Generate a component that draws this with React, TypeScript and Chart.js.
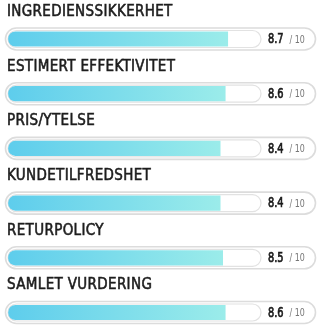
import React, { useEffect, useRef } from "react";
import { Chart, registerables } from "chart.js";

Chart.register(...registerables);

const categories = [
  "INGREDIENSSIKKERHET",
  "ESTIMERT EFFEKTIVITET",
  "PRIS/YTELSE",
  "KUNDETILFREDSHET",
  "RETURPOLICY",
  "SAMLET VURDERING",
];
const scores = [8.7, 8.6, 8.4, 8.4, 8.5, 8.6];
const maxScore = 10;
const scoreLabels = ["8.7", "8.6", "8.4", "8.4", "8.5", "8.6"];
const suffix = "/ 10";

const TITLE_FONT = '15px "DejaVu Sans Condensed", sans-serif';
const VALUE_FONT = '14px "DejaVu Sans Condensed", sans-serif';
const SUFFIX_FONT = '10px "DejaVu Sans Condensed", sans-serif';

function roundRect(ctx: CanvasRenderingContext2D, x: number, y: number, w: number, h: number, r: number) {
  ctx.beginPath();
  ctx.moveTo(x + r, y);
  ctx.lineTo(x + w - r, y);
  ctx.arc(x + w - r, y + r, r, -Math.PI / 2, Math.PI / 2);
  ctx.lineTo(x + r, y + h);
  ctx.arc(x + r, y + r, r, Math.PI / 2, (3 * Math.PI) / 2);
  ctx.closePath();
}

const decorPlugin = {
  id: "decor",
  beforeDatasetsDraw(chart: any) {
    const ctx: CanvasRenderingContext2D = chart.ctx;
    const meta = chart.getDatasetMeta(0);
    const ca = chart.chartArea;
    meta.data.forEach((bar: any) => {
      const cy = bar.y;
      ctx.save();
      roundRect(ctx, 5.5, cy - 11, 310, 22, 11);
      ctx.fillStyle = "#ffffff";
      ctx.fill();
      ctx.lineWidth = 1.6;
      ctx.strokeStyle = "#dcdcdc";
      ctx.stroke();
      roundRect(ctx, ca.left - 0.5, cy - 8.5, ca.right - ca.left + 1, 17, 8.5);
      ctx.fillStyle = "#ffffff";
      ctx.fill();
      ctx.lineWidth = 1.2;
      ctx.strokeStyle = "#e2e2e2";
      ctx.stroke();
      ctx.restore();
    });
  },
  afterDatasetsDraw(chart: any) {
    const ctx: CanvasRenderingContext2D = chart.ctx;
    const meta = chart.getDatasetMeta(0);
    meta.data.forEach((bar: any, i: number) => {
      const cy = bar.y;
      ctx.save();
      ctx.textBaseline = "middle";
      ctx.textAlign = "left";
      // title (medium weight via thin stroke)
      ctx.fillStyle = "#1e1e1e";
      ctx.strokeStyle = "#1e1e1e";
      ctx.lineWidth = 0.55;
      ctx.font = TITLE_FONT;
      (ctx as any).letterSpacing = "0.35px";
      ctx.fillText(categories[i], 7, cy - 27);
      ctx.strokeText(categories[i], 7, cy - 27);
      (ctx as any).letterSpacing = "0px";
      // value, condensed horizontally
      const vx = 268;
      ctx.font = VALUE_FONT;
      ctx.fillStyle = "#1a1a1a";
      ctx.strokeStyle = "#1a1a1a";
      ctx.lineWidth = 0.7;
      const sx = 0.78;
      ctx.save();
      ctx.translate(vx, cy + 0.5);
      ctx.scale(sx, 1);
      ctx.fillText(scoreLabels[i], 0, 0);
      ctx.strokeText(scoreLabels[i], 0, 0);
      ctx.restore();
      const w = ctx.measureText(scoreLabels[i]).width * sx;
      ctx.font = SUFFIX_FONT;
      ctx.fillStyle = "#777777";
      ctx.save();
      ctx.translate(vx + w + 6, cy + 1);
      ctx.scale(0.88, 1);
      ctx.fillText(suffix, 0, 0);
      ctx.restore();
      ctx.restore();
    });
  },
};

export default function App() {
  const ref = useRef<HTMLCanvasElement | null>(null);
  useEffect(() => {
    document.body.style.margin = "0";
    const canvas = ref.current!;
    const chart = new Chart(canvas, {
      type: "bar",
      data: {
        labels: categories,
        datasets: [
          {
            data: scores,
            barThickness: 14.5,
            borderWidth: 0,
            borderSkipped: false,
            borderRadius: { topLeft: 7.25, bottomLeft: 7.25, topRight: 0, bottomRight: 0 },
            clip: false as any,
            backgroundColor: (c: any) => {
              const ch = c.chart;
              const ca = ch.chartArea;
              if (!ca) return "#6dd6ec";
              const xs = ch.scales.x;
              const end = xs.getPixelForValue(scores[c.dataIndex] ?? maxScore);
              const g = ch.ctx.createLinearGradient(ca.left, 0, end, 0);
              g.addColorStop(0, "#5ecdec");
              g.addColorStop(1, "#9becea");
              return g;
            },
          },
        ],
      },
      options: {
        indexAxis: "y",
        animation: false,
        responsive: false,
        maintainAspectRatio: false,
        layout: { padding: { left: 8.5, right: 60.5, top: 39, bottom: 17.5 } },
        scales: {
          x: { min: 0, max: maxScore, display: false },
          y: { display: false, offset: false },
        },
        plugins: {
          legend: { display: false },
          tooltip: { enabled: false },
        },
      },
      plugins: [decorPlugin],
    });
    return () => chart.destroy();
  }, []);
  return (
    <div style={{ position: "relative", width: 321, height: 330 }}>
      <canvas ref={ref} width={321} height={330} style={{ width: 321, height: 330, display: "block" }} />
    </div>
  );
}
